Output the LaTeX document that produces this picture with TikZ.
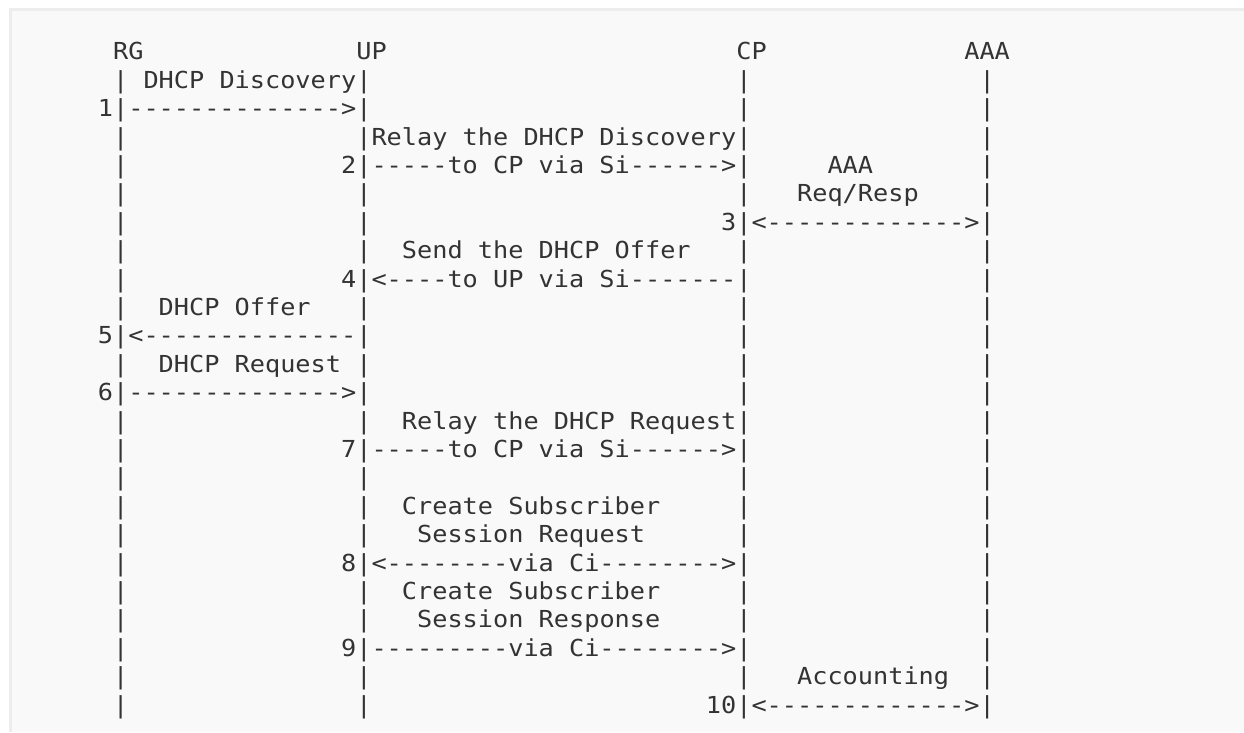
\documentclass[tikz,border=0pt]{standalone}
\usepackage{fontspec}
\setmonofont{DejaVu Sans Mono}[FakeStretch=1.079]
\usepackage{tikz}
\usepackage{xcolor}
\definecolor{pagecolorc}{HTML}{F9F9F9}
\definecolor{framecolorc}{HTML}{EDEDED}
\definecolor{inkcolorc}{HTML}{333333}
\colorlet{pagecolor}{pagecolorc}
\colorlet{framecolor}{framecolorc}
\colorlet{inkcolor}{inkcolorc}
\tikzstyle{ascii} =[
    inner sep=0pt,
    outer sep=0pt,
    anchor=base west,
    text=inkcolor,
    font=\ttfamily\fontsize{23.4pt}{28.4pt}\selectfont
    ]
\tikzstyle{frame} =[
    draw=framecolor,
    line width=2.5pt
    ]

\begin{document}
\begin{tikzpicture}[x=15.2pt, y=-28.4pt]
\useasboundingbox (0pt,0pt) rectangle (1244pt,-732pt);
\fill[white] (0pt,0pt) rectangle (1244pt,-732pt);
\fill[pagecolor] (10.5pt,-9.5pt) rectangle (1244pt,-732pt);
\draw[frame] (1244pt,-9.5pt) -- (10.5pt,-9.5pt) -- (10.5pt,-732pt);

\begin{scope}[shift={(6.7pt,-59.9pt)}]
% heads
\node[ascii] (rg) at (7,0) {RG};
\node[ascii] (up) at (23,0) {UP};
\node[ascii] (cp) at (48,0) {CP};
\node[ascii] (aaa) at (63,0) {AAA};
% life lines
\foreach \r in {1,...,23}{
    \foreach \c in {7,23,48,64}
        \node[ascii] (bar-\c-\r) at (\c,\r) {|};
}
% 1
\node[ascii] (l1) at (9,1) {DHCP Discovery};
\node[ascii] (n1) at (6,2) {1};
\node[ascii] (m1) at (8,2) {-------------->};
% 2
\node[ascii] (l2) at (24,3) {Relay the DHCP Discovery};
\node[ascii] (n2) at (22,4) {2};
\node[ascii] (m2) at (24,4) {-----to CP via Si------>};
% 3
\node[ascii] (l3a) at (54,4) {AAA};
\node[ascii] (l3b) at (52,5) {Req/Resp};
\node[ascii] (n3) at (47,6) {3};
\node[ascii] (m3) at (49,6) {<------------->};
% 4
\node[ascii] (l4) at (26,7) {Send the DHCP Offer};
\node[ascii] (n4) at (22,8) {4};
\node[ascii] (m4) at (24,8) {<----to UP via Si-------};
% 5
\node[ascii] (l5) at (10,9) {DHCP Offer};
\node[ascii] (n5) at (6,10) {5};
\node[ascii] (m5) at (8,10) {<--------------};
% 6
\node[ascii] (l6) at (10,11) {DHCP Request};
\node[ascii] (n6) at (6,12) {6};
\node[ascii] (m6) at (8,12) {-------------->};
% 7
\node[ascii] (l7) at (26,13) {Relay the DHCP Request};
\node[ascii] (n7) at (22,14) {7};
\node[ascii] (m7) at (24,14) {-----to CP via Si------>};
% 8
\node[ascii] (l8a) at (26,16) {Create Subscriber};
\node[ascii] (l8b) at (27,17) {Session Request};
\node[ascii] (n8) at (22,18) {8};
\node[ascii] (m8) at (24,18) {<--------via Ci-------->};
% 9
\node[ascii] (l9a) at (26,19) {Create Subscriber};
\node[ascii] (l9b) at (27,20) {Session Response};
\node[ascii] (n9) at (22,21) {9};
\node[ascii] (m9) at (24,21) {---------via Ci-------->};
% 10
\node[ascii] (l10) at (52,22) {Accounting};
\node[ascii] (n10) at (46,23) {10};
\node[ascii] (m10) at (49,23) {<------------->};
\end{scope}
\end{tikzpicture}
\end{document}
